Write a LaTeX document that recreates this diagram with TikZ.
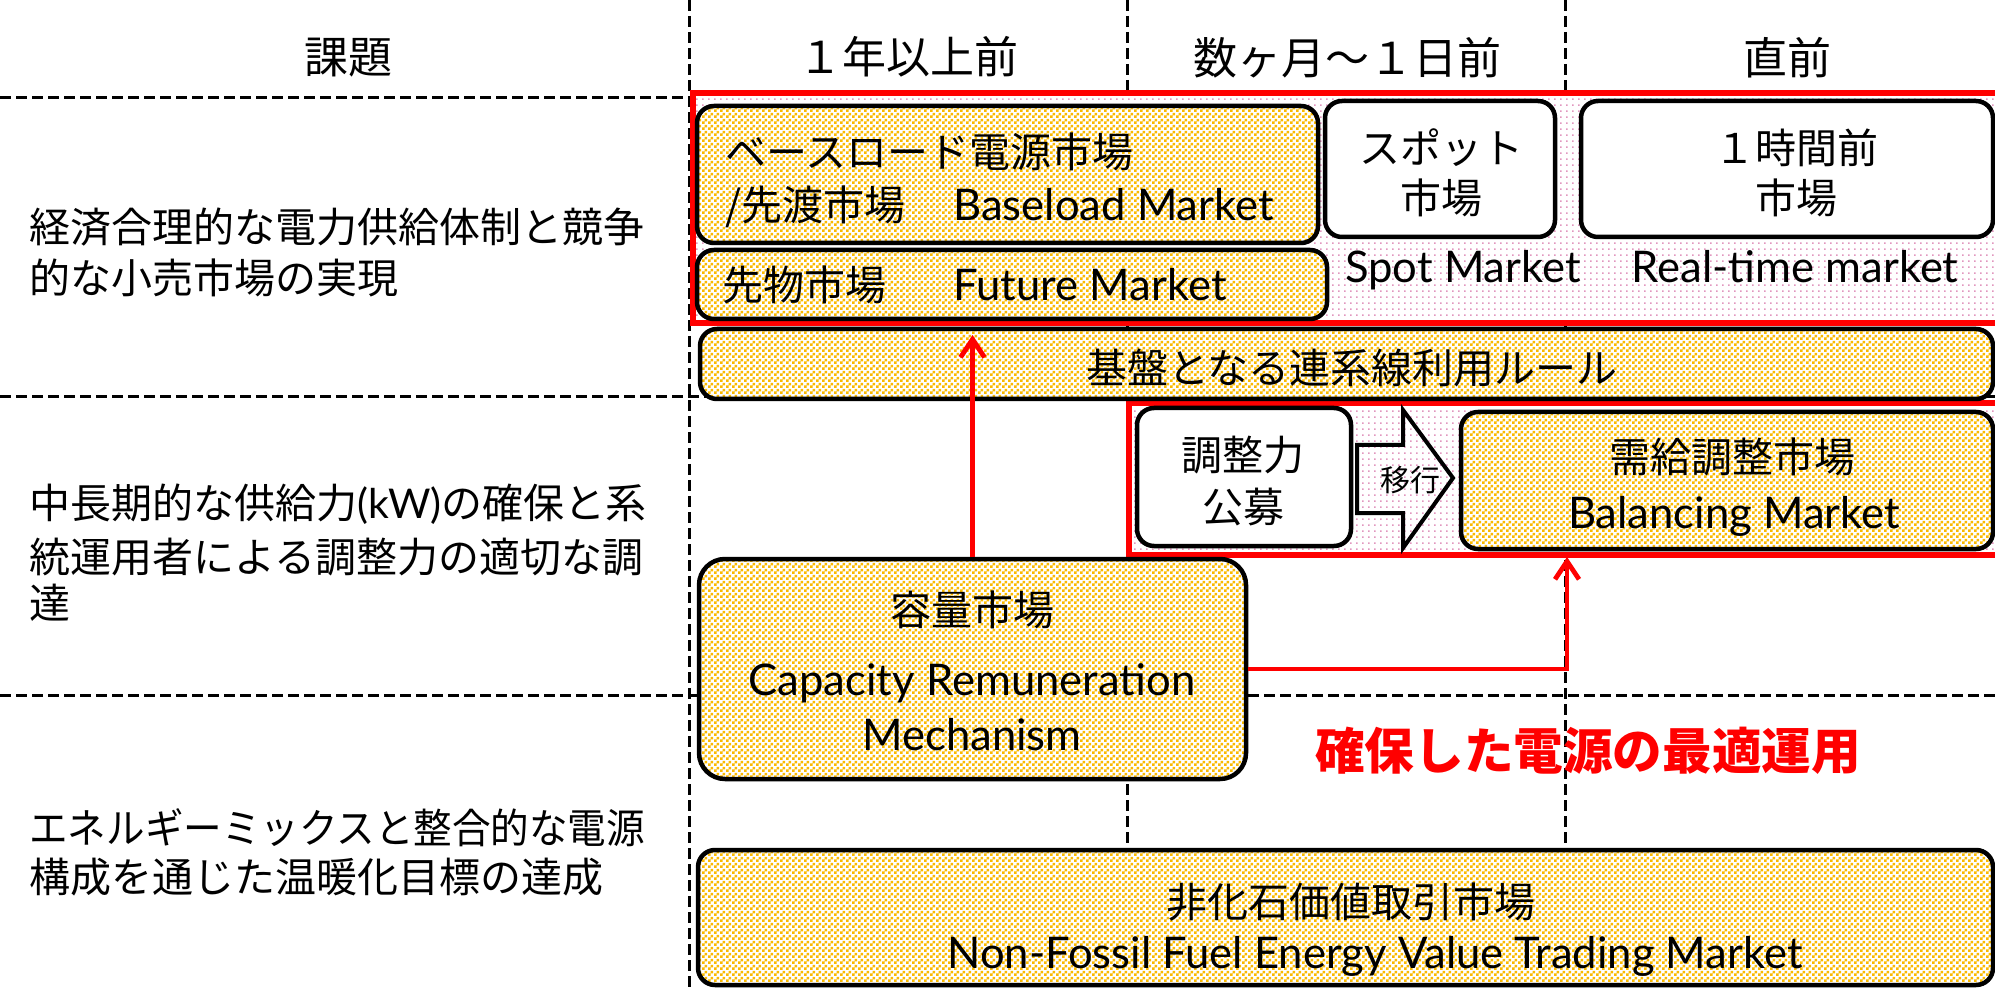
\documentclass[tikz,border=0pt]{standalone}
\usepackage{fontspec}
\setmainfont{Noto Sans CJK JP}
\newfontfamily\lt{Lato}
\usetikzlibrary{patterns,arrows.meta}
\definecolor{chkorange}{RGB}{250,185,0}
\definecolor{dotpink}{RGB}{225,150,190}
\definecolor{redline}{RGB}{255,0,0}
\pgfdeclarepatternformonly{chk}{\pgfqpoint{0pt}{0pt}}{\pgfqpoint{3pt}{3pt}}{\pgfqpoint{3pt}{3pt}}{%
  \pgfpathrectangle{\pgfqpoint{0pt}{0pt}}{\pgfqpoint{1.5pt}{1.5pt}}%
  \pgfpathrectangle{\pgfqpoint{1.5pt}{1.5pt}}{\pgfqpoint{1.5pt}{1.5pt}}%
  \pgfusepath{fill}}
\pgfdeclarepatternformonly{pdots}{\pgfqpoint{0pt}{0pt}}{\pgfqpoint{3pt}{3pt}}{\pgfqpoint{3pt}{3pt}}{%
  \pgfpathrectangle{\pgfqpoint{0pt}{0pt}}{\pgfqpoint{0.9pt}{0.9pt}}%
  \pgfusepath{fill}}
\begin{document}
\begin{tikzpicture}[x=0.5pt,y=-0.5pt,
  grid/.style={line width=1.5pt, dash pattern=on 5.5pt off 2.5pt},
  redframe/.style={draw=redline, line width=2.75pt, preaction={fill=white}, pattern=pdots, pattern color=dotpink, inner sep=0, anchor=center},
  ybox/.style={draw=black, line width=2.25pt, rounded corners=8.5pt, preaction={fill=white}, pattern=chk, pattern color=chkorange, inner sep=0, anchor=center},
  wbox/.style={draw=black, line width=2.25pt, rounded corners=8.5pt, fill=white, inner sep=0, anchor=center},
  hd/.style={inner sep=0, font=\fontsize{22}{26}\selectfont, text height=16.3pt, text depth=0pt},
  jt/.style={inner sep=0, font=\fontsize{20.5}{24}\selectfont, text height=15.2pt, text depth=0pt},
  et/.style={inner sep=0, font=\lt\fontsize{21.8}{26}\selectfont, text height=15.8pt, text depth=0pt},
  redarrow/.style={draw=redline, line width=2.4pt, -{Straight Barb[length=9pt,width=12pt,line width=2.4pt]}},
]
\useasboundingbox (0,0) rectangle (1995,988);
\clip (0,0) rectangle (1995,988);
\fill[white] (0,0) rectangle (1995,988);
% grid
\draw[grid] (0,98) -- (1995,98);
\draw[grid] (0,397) -- (1995,397);
\draw[grid] (0,695) -- (1995,695);
\draw[grid] (689,0) -- (689,988);
\draw[grid] (1127,0) -- (1127,850);
\draw[grid] (1565,0) -- (1565,850);
% header
\node[hd] (h0) at (348,57) {課題};
\node[hd] (h1) at (908,57) {１年以上前};
\node[hd] (h2) at (1347,58) {数ヶ月～１日前};
\node[hd] (h3) at (1787,58) {直前};
% left texts
\node[jt, anchor=west] (l1a) at (29,227) {経済合理的な電力供給体制と競争};
\node[jt, anchor=west] (l1b) at (29,278) {的な小売市場の実現};
\node[jt, anchor=west] (l2a) at (29,503) {中長期的な供給力{\lt (kW)}の確保と系};
\node[jt, anchor=west] (l2b) at (29,557) {統運用者による調整力の適切な調};
\node[jt, anchor=west] (l2c) at (29,603) {達};
\node[jt, anchor=west] (l3a) at (29,828) {\scalebox{0.94}[1]{エネルギーミックスと整合的な電源}};
\node[jt, anchor=west] (l3b) at (29,877) {構成を通じた温暖化目標の達成};
% red frames
\node[redframe, minimum width=658.5pt, minimum height=115pt] (r1) at (1351.5,208) {};
\node[redframe, minimum width=440.5pt, minimum height=76pt] (r2) at (1569.5,479) {};
% upper boxes
\node[ybox, minimum width=310.5pt, minimum height=68.5pt] (base) at (1007.5,174.5) {};
\node[ybox, minimum width=315pt, minimum height=34.5pt] (fut) at (1012,284.5) {};
\node[wbox, minimum width=115pt, minimum height=68pt] (spot) at (1440,169) {};
\node[wbox, minimum width=206pt, minimum height=68pt] (rt) at (1787,169) {};
\node[ybox, minimum width=646.5pt, minimum height=35pt] (kiban) at (1346.5,364) {};
\node[wbox, minimum width=107pt, minimum height=69pt] (kobo) at (1244,477) {};
\node[ybox, minimum width=266pt, minimum height=68.5pt] (bal) at (1727,480.5) {};
\node[ybox, rounded corners=13pt, minimum width=273.5pt, minimum height=110pt] (cap) at (972.5,669) {};
\node[ybox, minimum width=647.5pt, minimum height=67.5pt] (nf) at (1345.5,917.5) {};
% block arrow
\draw[line width=2pt, line join=miter] (1357,445) -- (1403,445) -- (1403,410) -- (1453,478) -- (1403,548) -- (1403,513) -- (1357,513) -- cycle;
\node[inner sep=0, font=\fontsize{15}{18}\selectfont, text height=11pt, text depth=0pt] (ikou) at (1410,480) {移行};
% box texts
\node[jt, anchor=west] (bt1) at (725,152) {ベースロード電源市場};
\node[jt, anchor=west] (bt2) at (725,205) {/先渡市場};
\node[et, anchor=west] (bt3) at (953,205) {Baseload Market};
\node[jt, anchor=west] (ft1) at (722,285) {先物市場};
\node[et, anchor=west] (ft2) at (953,285) {Future Market};
\node[jt] (st1) at (1441,148) {スポット};
\node[jt] (st2) at (1441,198) {市場};
\node[jt] (rt1) at (1796,148) {１時間前};
\node[jt] (rt2) at (1796,198) {市場};
\node[et] (st3) at (1463,267) {Spot Market};
\node[et] (rt3) at (1795,267) {Real-time market};
\node[jt] (kt) at (1352,368) {基盤となる連系線利用ルール};
\node[jt] (ko1) at (1243,455) {調整力};
\node[jt] (ko2) at (1243,507) {公募};
\node[jt] (ba1) at (1732,457) {需給調整市場};
\node[et] (ba2) at (1734,513) {Balancing Market};
\node[jt] (ca1) at (972,610) {容量市場};
\node[et] (ca2) at (972,680) {Capacity Remuneration};
\node[et] (ca3) at (972,735) {Mechanism};
\node[jt] (nf1) at (1351,902) {非化石価値取引市場};
\node[et] (nf2) at (1375,953) {Non-Fossil Fuel Energy Value Trading Market};
\node[inner sep=0, text=redline, font=\bfseries\fontsize{24.8}{28}\selectfont, text height=18.4pt, text depth=0pt] (opt) at (1588,751) {確保した電源の最適運用};
% red connectors
\coordinate (tipA) at (972.5,335);
\coordinate (tipB) at (1567,557);
\draw[redarrow] (cap.north) -- (tipA);
\draw[redarrow] (cap.east) -| (tipB);
\end{tikzpicture}
\end{document}
